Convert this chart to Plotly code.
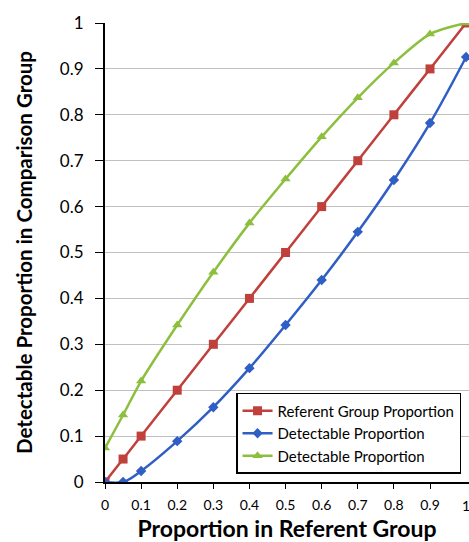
import plotly.graph_objects as go

x_ref = [0, 0.05, 0.1, 0.2, 0.3, 0.4, 0.5, 0.6, 0.7, 0.8, 0.9, 1.0]
y_ref = [0, 0.05, 0.1, 0.2, 0.3, 0.4, 0.5, 0.6, 0.7, 0.8, 0.9, 1.0]

x_blue = [0, 0.05, 0.1, 0.2, 0.3, 0.4, 0.5, 0.6, 0.7, 0.8, 0.9, 1.0]
y_blue = [0, 0, 0.024, 0.089, 0.163, 0.248, 0.342, 0.44, 0.545, 0.658, 0.782, 0.926]

x_green = [0, 0.05, 0.1, 0.2, 0.3, 0.4, 0.5, 0.6, 0.7, 0.8, 0.9, 1.0]
y_green = [0.074, 0.146, 0.22, 0.342, 0.457, 0.564, 0.66, 0.752, 0.837, 0.913, 0.976, 1.0]

names = ["Referent Group Proportion", "Detectable Proportion", "Detectable Proportion"]
tick_vals = [0, 0.1, 0.2, 0.3, 0.4, 0.5, 0.6, 0.7, 0.8, 0.9, 1]
tick_text = ["0", "0.1", "0.2", "0.3", "0.4", "0.5", "0.6", "0.7", "0.8", "0.9", "1"]

FONT = "Lato"

fig = go.Figure()
fig.add_trace(go.Scatter(x=x_ref, y=y_ref, name=names[0], mode="lines+markers",
                         line=dict(color="#C0403C", width=2.5, shape="spline"),
                         marker=dict(symbol="square", size=9, color="#C0403C")))
fig.add_trace(go.Scatter(x=x_blue, y=y_blue, name=names[1], mode="lines+markers",
                         line=dict(color="#2F5EC4", width=2.5, shape="spline"),
                         marker=dict(symbol="diamond", size=8, color="#2F5EC4")))
fig.add_trace(go.Scatter(x=x_green, y=y_green, name=names[2], mode="lines+markers",
                         line=dict(color="#8DBF3F", width=2.5, shape="spline", smoothing=0.8),
                         marker=dict(symbol="triangle-up", size=9, color="#8DBF3F")))

# last x tick label, partly cut by the right edge as in the reference
fig.add_annotation(x=tick_vals[-1], y=0, xref="x", yref="paper", text=tick_text[-1],
                   showarrow=False, yanchor="top", xanchor="center", yshift=-13,
                   font=dict(size=14, family=FONT, color="black"))

fig.update_layout(
    width=469, height=542,
    margin=dict(l=105, r=0, t=23, b=60),
    plot_bgcolor="white", paper_bgcolor="white",
    font=dict(family=FONT, color="black"),
    legend=dict(x=0.36, y=0.194, xanchor="left", yanchor="top",
                bordercolor="black", borderwidth=1.5, bgcolor="white",
                font=dict(size=15, family=FONT)),
    xaxis=dict(range=[0, 1.008], tickvals=tick_vals[:-1], ticktext=tick_text[:-1],
               showgrid=False, zeroline=False, showline=True, linecolor="black",
               linewidth=2, ticks="outside", ticklen=5, tickcolor="black",
               tickfont=dict(size=14, family=FONT), automargin=False,
               ticklabelstandoff=4,
               title=dict(text="<b>Proportion in Referent Group</b>",
                          font=dict(size=23, family=FONT), standoff=16)),
    yaxis=dict(range=[0, 1], tickvals=tick_vals, ticktext=tick_text,
               showgrid=True, gridcolor="#C0C0C0", gridwidth=1,
               zeroline=False, showline=True, linecolor="black", linewidth=2,
               ticks="outside", ticklen=8, tickcolor="black",
               tickfont=dict(size=17, family=FONT), automargin=False,
               ticklabelstandoff=8,
               title=dict(text="<b>Detectable Proportion in Comparison Group</b>",
                          font=dict(size=20.5, family=FONT), standoff=22)),
)

fig.write_html("out.html", config={"displayModeBar": False},
               post_script="document.body.style.margin='0';document.body.style.overflow='hidden';")
